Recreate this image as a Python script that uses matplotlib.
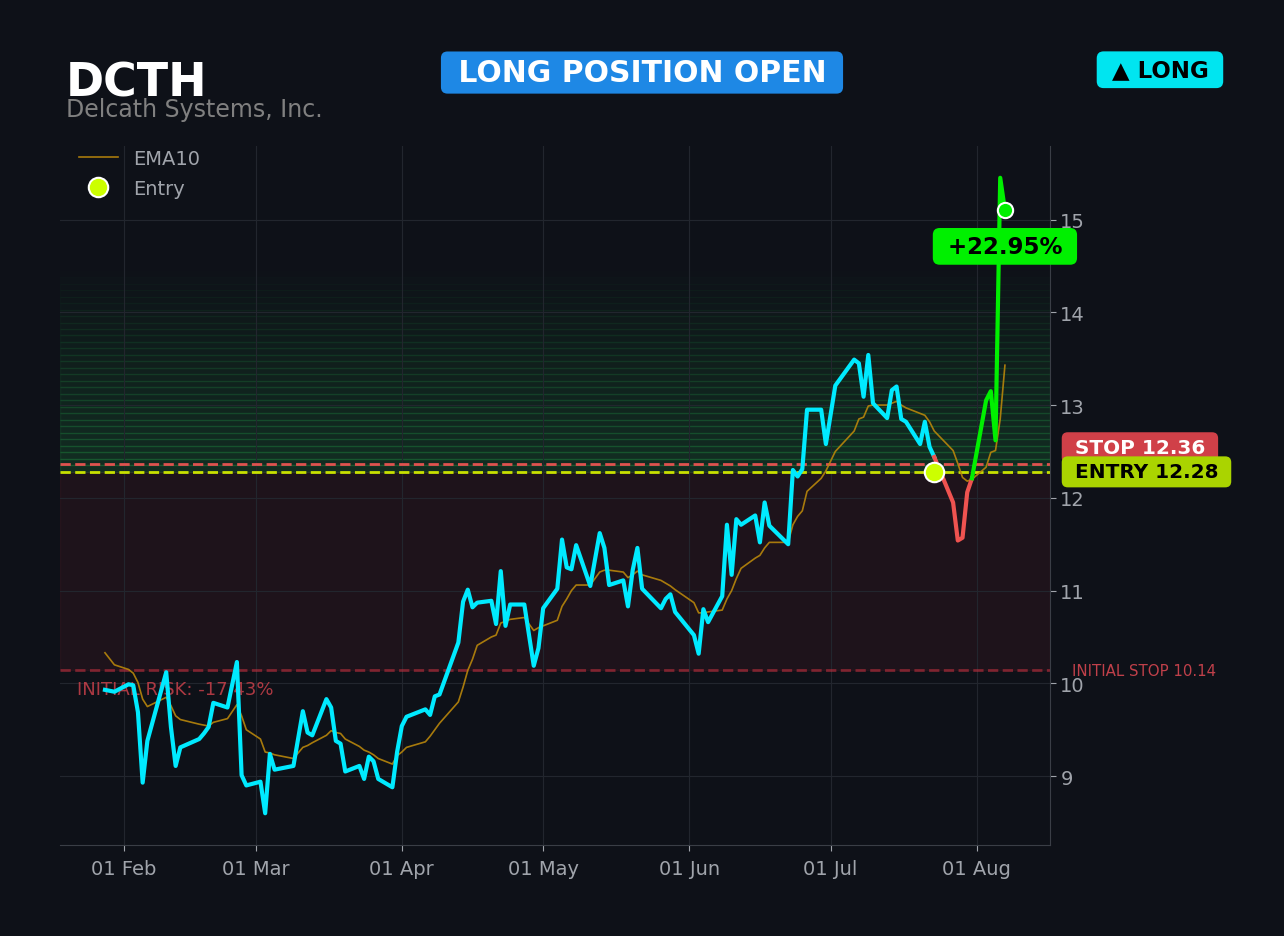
import numpy as np
import pandas as pd
import matplotlib
matplotlib.use('Agg')
import matplotlib.pyplot as plt
import matplotlib.dates as mdates
import matplotlib.transforms as mtransforms

# --- data ---
ticker = 'DCTH'
company = 'Delcath Systems, Inc.'

dates = ['2025-01-28', '2025-01-30', '2025-02-02', '2025-02-03', '2025-02-04', '2025-02-05',
         '2025-02-06', '2025-02-10', '2025-02-11', '2025-02-12', '2025-02-13', '2025-02-17',
         '2025-02-18', '2025-02-19', '2025-02-20', '2025-02-23', '2025-02-25', '2025-02-26',
         '2025-02-27', '2025-03-02', '2025-03-03', '2025-03-04', '2025-03-05', '2025-03-09',
         '2025-03-11', '2025-03-12', '2025-03-13', '2025-03-16', '2025-03-17', '2025-03-18',
         '2025-03-19', '2025-03-20', '2025-03-23', '2025-03-24', '2025-03-25', '2025-03-26',
         '2025-03-27', '2025-03-30', '2025-03-31', '2025-04-01', '2025-04-02', '2025-04-06',
         '2025-04-07', '2025-04-08', '2025-04-09', '2025-04-13', '2025-04-14', '2025-04-15',
         '2025-04-16', '2025-04-17', '2025-04-20', '2025-04-21', '2025-04-22', '2025-04-23',
         '2025-04-24', '2025-04-27', '2025-04-29', '2025-04-30', '2025-05-01', '2025-05-04',
         '2025-05-05', '2025-05-06', '2025-05-07', '2025-05-08', '2025-05-11', '2025-05-13',
         '2025-05-14', '2025-05-15', '2025-05-18', '2025-05-19', '2025-05-20', '2025-05-21',
         '2025-05-22', '2025-05-26', '2025-05-27', '2025-05-28', '2025-05-29', '2025-06-02',
         '2025-06-03', '2025-06-04', '2025-06-05', '2025-06-08', '2025-06-09', '2025-06-10',
         '2025-06-11', '2025-06-12', '2025-06-15', '2025-06-16', '2025-06-17', '2025-06-18',
         '2025-06-22', '2025-06-23', '2025-06-24', '2025-06-25', '2025-06-26', '2025-06-29',
         '2025-06-30', '2025-07-02', '2025-07-06', '2025-07-07', '2025-07-08', '2025-07-09',
         '2025-07-10', '2025-07-13', '2025-07-14', '2025-07-15', '2025-07-16', '2025-07-17',
         '2025-07-20', '2025-07-21', '2025-07-22', '2025-07-23', '2025-07-27', '2025-07-28',
         '2025-07-29', '2025-07-30', '2025-07-31', '2025-08-03', '2025-08-04', '2025-08-05',
         '2025-08-06', '2025-08-07']

close = [9.93, 9.91, 9.99, 9.98, 9.69, 8.93, 9.38, 10.12, 9.53, 9.11, 9.31, 9.40,
         9.46, 9.53, 9.79, 9.74, 10.23, 9.01, 8.90, 8.94, 8.60, 9.24, 9.07, 9.11,
         9.70, 9.47, 9.44, 9.83, 9.74, 9.38, 9.35, 9.05, 9.11, 8.97, 9.21, 9.16,
         8.97, 8.88, 9.26, 9.54, 9.64, 9.72, 9.66, 9.86, 9.88, 10.44, 10.88, 11.01,
         10.82, 10.87, 10.89, 10.64, 11.21, 10.62, 10.85, 10.85, 10.19, 10.38, 10.81, 11.02,
         11.55, 11.25, 11.23, 11.49, 11.05, 11.62, 11.46, 11.06, 11.11, 10.83, 11.22, 11.46,
         11.02, 10.81, 10.91, 10.96, 10.77, 10.52, 10.32, 10.80, 10.66, 10.94, 11.71, 11.17,
         11.77, 11.71, 11.81, 11.52, 11.95, 11.70, 11.50, 12.30, 12.23, 12.31, 12.95, 12.95,
         12.58, 13.21, 13.49, 13.45, 13.09, 13.54, 13.02, 12.86, 13.16, 13.20, 12.85, 12.82,
         12.58, 12.82, 12.55, 12.44, 11.95, 11.54, 11.57, 12.06, 12.21, 13.05, 13.15, 12.62,
         15.45, 15.10]

ema10 = [10.33, 10.20, 10.15, 10.11, 10.01, 9.83, 9.75, 9.85, 9.76, 9.65, 9.61, 9.56,
         9.55, 9.54, 9.58, 9.62, 9.77, 9.65, 9.50, 9.40, 9.26, 9.25, 9.23, 9.19,
         9.31, 9.33, 9.36, 9.44, 9.49, 9.47, 9.46, 9.40, 9.32, 9.28, 9.26, 9.23,
         9.19, 9.13, 9.22, 9.26, 9.31, 9.37, 9.43, 9.50, 9.57, 9.80, 9.96, 10.14,
         10.26, 10.41, 10.50, 10.52, 10.65, 10.67, 10.69, 10.71, 10.57, 10.60, 10.62, 10.68,
         10.83, 10.91, 11.00, 11.06, 11.06, 11.20, 11.22, 11.22, 11.20, 11.14, 11.17, 11.21,
         11.17, 11.11, 11.08, 11.05, 11.01, 10.87, 10.76, 10.76, 10.77, 10.79, 10.91, 11.00,
         11.13, 11.24, 11.35, 11.38, 11.46, 11.52, 11.52, 11.71, 11.80, 11.86, 12.07, 12.21,
         12.29, 12.50, 12.72, 12.85, 12.87, 12.99, 13.00, 13.00, 13.02, 13.04, 13.00, 12.97,
         12.91, 12.89, 12.82, 12.72, 12.51, 12.37, 12.22, 12.18, 12.20, 12.33, 12.49, 12.51,
         12.85, 13.43]

entry_date = '2025-07-23'
entry_price = 12.28
stop_price = 12.36
initial_stop = 10.14
pnl_pct = 22.95
risk_pct = -17.43

# --- colours ---
BG = '#0e1118'
CYAN = '#00eaff'
UP = '#00f000'
DOWN = '#ef5350'
EMA_C = '#b8860b'
GRID = '#22262e'
TXT = '#a0a4ab'

fig = plt.figure(figsize=(12.84, 9.37), dpi=100, facecolor=BG)
ax = fig.add_axes([0.0467, 0.0971, 0.7710, 0.7460], facecolor=BG)

d = pd.to_datetime(dates)
c = np.array(close)
i0 = list(dates).index(entry_date)

# profit zone gradient + risk zone
n_band, h = 32, 0.07
for k in range(n_band):
    ax.axhspan(entry_price + k * h, entry_price + (k + 1) * h, color='#2bd15a',
               alpha=0.15 * (1 - k / n_band), lw=1, zorder=0)
ax.axhspan(initial_stop, entry_price, color='#dc3545', alpha=0.08, lw=1, zorder=0)

ax.axhline(stop_price, color='#e0524f', ls='--', lw=2, zorder=2)
ax.axhline(entry_price, color='#c8e000', ls='--', lw=2, zorder=2)
ax.axhline(initial_stop, color='#dc3545', alpha=0.5, ls='--', lw=2, zorder=2)

ax.plot(d, ema10, color=EMA_C, lw=1.2, alpha=0.9, label='EMA10', zorder=3)

# price before entry
ax.plot(d[:i0 + 1], c[:i0 + 1], color=CYAN, lw=3, zorder=5)

# price after entry, coloured by side of the entry price
seg_col = [UP if c[k + 1] >= entry_price else DOWN for k in range(i0, len(c) - 1)]
start = i0
for k in range(1, len(seg_col) + 1):
    if k == len(seg_col) or seg_col[k] != seg_col[start - i0]:
        end = i0 + k
        ax.plot(d[start:end + 1], c[start:end + 1], color=seg_col[start - i0], lw=3, zorder=5)
        start = end

ax.plot(d[i0], entry_price, 'o', ms=14, mfc='#ccff00', mec='white', mew=1.5,
        zorder=7, label='Entry')
ax.plot(d[-1], c[-1], 'o', ms=11, mfc=UP, mec='white', mew=1.5, zorder=7)

ax.annotate(f' +{pnl_pct:.2f}% ', (d[-1], c[-1]), xytext=(0, -26),
            textcoords='offset points', ha='center', va='center',
            fontsize=16.5, fontweight='bold', color='black', zorder=8,
            bbox=dict(boxstyle='round,pad=0.3', fc=UP, ec='none'))

# axes styling
ax.xaxis.set_major_locator(mdates.MonthLocator())
ax.xaxis.set_major_formatter(mdates.DateFormatter('%d %b'))
ax.yaxis.tick_right()
ax.tick_params(colors=TXT, labelsize=14, length=4)
ax.tick_params(axis='x', pad=6)
ax.grid(True, color=GRID, lw=0.8)
ax.set_axisbelow(True)
for side in ['top', 'left']:
    ax.spines[side].set_visible(False)
for side in ['right', 'bottom']:
    ax.spines[side].set_color('#3a3e46')

# right-hand level labels
trans = mtransforms.blended_transform_factory(ax.transAxes, ax.transData)
ax.text(1.018, stop_price + 0.18, f' STOP {stop_price:.2f} ', transform=trans,
        ha='left', va='center', fontsize=14.4, fontweight='bold', color='white',
        clip_on=False, zorder=9,
        bbox=dict(boxstyle='round,pad=0.3', fc='#d04048', ec='none'))
ax.text(1.018, entry_price, f' ENTRY {entry_price:.2f} ', transform=trans,
        ha='left', va='center', fontsize=14.4, fontweight='bold', color='black',
        clip_on=False, zorder=10,
        bbox=dict(boxstyle='round,pad=0.3', fc='#aad400', ec='none'))
ax.text(1.022, initial_stop, f'INITIAL STOP {initial_stop:.2f}', transform=trans,
        ha='left', va='center', fontsize=10.8, color='#c0404a', clip_on=False)
ax.text(0.017, initial_stop - 0.2, f'INITIAL RISK: {risk_pct:.2f}%', transform=trans,
        ha='left', va='center', fontsize=13, color='#c8404a', alpha=0.85)

leg = ax.legend(loc='upper left', bbox_to_anchor=(0.019, 0.996), frameon=False,
                fontsize=14, labelcolor=TXT, borderaxespad=0, borderpad=0.0,
                labelspacing=0.55)

# header
fig.text(0.0514, 0.8975, ticker, fontsize=33, fontweight='bold', color='white', va='baseline')
fig.text(0.0514, 0.8750, company, fontsize=17, color='#808080', va='baseline')
fig.text(0.5, 0.9215, ' LONG POSITION OPEN ', fontsize=21.5, fontweight='bold', color='white',
         ha='center', va='center',
         bbox=dict(boxstyle='round,pad=0.22', fc='#1e88e5', ec='none'))
fig.text(0.9034, 0.9245, ' \u25b2 LONG ', fontsize=16.5, fontweight='bold', color='black',
         ha='center', va='center',
         bbox=dict(boxstyle='round,pad=0.3', fc='#00e5f0', ec='none'))

fig.savefig('out.png', dpi=100, facecolor=BG)
